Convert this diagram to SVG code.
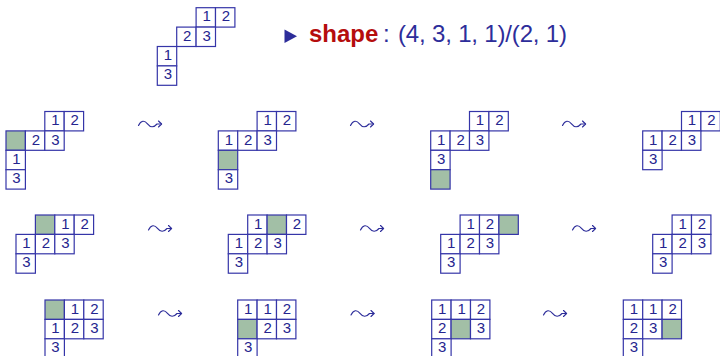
<svg xmlns="http://www.w3.org/2000/svg" xmlns:xlink="http://www.w3.org/1999/xlink" width="720" height="356" viewBox="0 0 720 356">
<style>
.c{fill:#ffffff;stroke:#3535a8;stroke-width:1.2}
.g{fill:#a2bfa6;stroke:#3535a8;stroke-width:1.2}
.t{font-family:"Liberation Sans",Arial,sans-serif;font-size:15px;fill:#25258f;text-anchor:middle}
.lt{fill:none;stroke:#2d2d9a;stroke-width:1.15;stroke-linecap:round;stroke-linejoin:round}
</style>
<defs>
<g id="leadsto">
<path class="lt" d="M0,2 C2.5,-3.4 6,-3.4 9,0.3 S15,4.4 18.5,0.5 L23,0.5"/>
<path class="lt" d="M20,-2.5 L23.1,0.5 L20,3.5"/>
</g>
</defs>
<rect width="720" height="356" fill="#ffffff"/>

<g id="top-shape" transform="translate(157.3,7.7)">
<rect class="c" x="38.8" y="0" width="19.4" height="19.4"/><text class="t" x="49.3" y="13.6">1</text>
<rect class="c" x="58.2" y="0" width="19.4" height="19.4"/><text class="t" x="68.7" y="13.6">2</text>
<rect class="c" x="19.4" y="19.4" width="19.4" height="19.4"/><text class="t" x="29.9" y="33">2</text>
<rect class="c" x="38.8" y="19.4" width="19.4" height="19.4"/><text class="t" x="49.3" y="33">3</text>
<rect class="c" x="0" y="38.8" width="19.4" height="19.4"/><text class="t" x="10.5" y="52.4">1</text>
<rect class="c" x="0" y="58.2" width="19.4" height="19.4"/><text class="t" x="10.5" y="71.8">3</text>
</g>

<g id="title">
<polygon points="284.5,29.5 297,36.2 284.5,42.9" fill="#2d2d9a"/>
<text x="309" y="42" font-family="'Liberation Sans',Arial,sans-serif" font-size="24" font-weight="bold" fill="#b50d0d">shape</text>
<text x="383" y="42" font-family="'Liberation Sans',Arial,sans-serif" font-size="24" fill="#2d2d9a">:</text>
<text x="398" y="42" font-family="'Liberation Sans',Arial,sans-serif" font-size="24" fill="#2d2d9a" textLength="169" lengthAdjust="spacing">(4, 3, 1, 1)/(2, 1)</text>
</g>

<!-- Row 1 -->
<g id="r1d1" transform="translate(6,111.5)">
<rect class="c" x="38.8" y="0" width="19.4" height="19.4"/><text class="t" x="49.3" y="13.6">1</text>
<rect class="c" x="58.2" y="0" width="19.4" height="19.4"/><text class="t" x="68.7" y="13.6">2</text>
<rect class="g" x="0" y="19.4" width="19.4" height="19.4"/>
<rect class="c" x="19.4" y="19.4" width="19.4" height="19.4"/><text class="t" x="29.9" y="33">2</text>
<rect class="c" x="38.8" y="19.4" width="19.4" height="19.4"/><text class="t" x="49.3" y="33">3</text>
<rect class="c" x="0" y="38.8" width="19.4" height="19.4"/><text class="t" x="10.5" y="52.4">1</text>
<rect class="c" x="0" y="58.2" width="19.4" height="19.4"/><text class="t" x="10.5" y="71.8">3</text>
</g>
<g id="r1d2" transform="translate(218.3,111.5)">
<rect class="c" x="38.8" y="0" width="19.4" height="19.4"/><text class="t" x="49.3" y="13.6">1</text>
<rect class="c" x="58.2" y="0" width="19.4" height="19.4"/><text class="t" x="68.7" y="13.6">2</text>
<rect class="c" x="0" y="19.4" width="19.4" height="19.4"/><text class="t" x="10.5" y="33">1</text>
<rect class="c" x="19.4" y="19.4" width="19.4" height="19.4"/><text class="t" x="29.9" y="33">2</text>
<rect class="c" x="38.8" y="19.4" width="19.4" height="19.4"/><text class="t" x="49.3" y="33">3</text>
<rect class="g" x="0" y="38.8" width="19.4" height="19.4"/>
<rect class="c" x="0" y="58.2" width="19.4" height="19.4"/><text class="t" x="10.5" y="71.8">3</text>
</g>
<g id="r1d3" transform="translate(430.7,111.5)">
<rect class="c" x="38.8" y="0" width="19.4" height="19.4"/><text class="t" x="49.3" y="13.6">1</text>
<rect class="c" x="58.2" y="0" width="19.4" height="19.4"/><text class="t" x="68.7" y="13.6">2</text>
<rect class="c" x="0" y="19.4" width="19.4" height="19.4"/><text class="t" x="10.5" y="33">1</text>
<rect class="c" x="19.4" y="19.4" width="19.4" height="19.4"/><text class="t" x="29.9" y="33">2</text>
<rect class="c" x="38.8" y="19.4" width="19.4" height="19.4"/><text class="t" x="49.3" y="33">3</text>
<rect class="c" x="0" y="38.8" width="19.4" height="19.4"/><text class="t" x="10.5" y="52.4">3</text>
<rect class="g" x="0" y="58.2" width="19.4" height="19.4"/>
</g>
<g id="r1d4" transform="translate(642.7,111.5)">
<rect class="c" x="38.8" y="0" width="19.4" height="19.4"/><text class="t" x="49.3" y="13.6">1</text>
<rect class="c" x="58.2" y="0" width="19.4" height="19.4"/><text class="t" x="68.7" y="13.6">2</text>
<rect class="c" x="0" y="19.4" width="19.4" height="19.4"/><text class="t" x="10.5" y="33">1</text>
<rect class="c" x="19.4" y="19.4" width="19.4" height="19.4"/><text class="t" x="29.9" y="33">2</text>
<rect class="c" x="38.8" y="19.4" width="19.4" height="19.4"/><text class="t" x="49.3" y="33">3</text>
<rect class="c" x="0" y="38.8" width="19.4" height="19.4"/><text class="t" x="10.5" y="52.4">3</text>
</g>

<!-- Row 2 -->
<g id="r2d1" transform="translate(16,215)">
<rect class="g" x="19.4" y="0" width="19.4" height="19.4"/>
<rect class="c" x="38.8" y="0" width="19.4" height="19.4"/><text class="t" x="49.3" y="13.6">1</text>
<rect class="c" x="58.2" y="0" width="19.4" height="19.4"/><text class="t" x="68.7" y="13.6">2</text>
<rect class="c" x="0" y="19.4" width="19.4" height="19.4"/><text class="t" x="10.5" y="33">1</text>
<rect class="c" x="19.4" y="19.4" width="19.4" height="19.4"/><text class="t" x="29.9" y="33">2</text>
<rect class="c" x="38.8" y="19.4" width="19.4" height="19.4"/><text class="t" x="49.3" y="33">3</text>
<rect class="c" x="0" y="38.8" width="19.4" height="19.4"/><text class="t" x="10.5" y="52.4">3</text>
</g>
<g id="r2d2" transform="translate(228.3,215)">
<rect class="c" x="19.4" y="0" width="19.4" height="19.4"/><text class="t" x="29.9" y="13.6">1</text>
<rect class="g" x="38.8" y="0" width="19.4" height="19.4"/>
<rect class="c" x="58.2" y="0" width="19.4" height="19.4"/><text class="t" x="68.7" y="13.6">2</text>
<rect class="c" x="0" y="19.4" width="19.4" height="19.4"/><text class="t" x="10.5" y="33">1</text>
<rect class="c" x="19.4" y="19.4" width="19.4" height="19.4"/><text class="t" x="29.9" y="33">2</text>
<rect class="c" x="38.8" y="19.4" width="19.4" height="19.4"/><text class="t" x="49.3" y="33">3</text>
<rect class="c" x="0" y="38.8" width="19.4" height="19.4"/><text class="t" x="10.5" y="52.4">3</text>
</g>
<g id="r2d3" transform="translate(440.7,215)">
<rect class="c" x="19.4" y="0" width="19.4" height="19.4"/><text class="t" x="29.9" y="13.6">1</text>
<rect class="c" x="38.8" y="0" width="19.4" height="19.4"/><text class="t" x="49.3" y="13.6">2</text>
<rect class="g" x="58.2" y="0" width="19.4" height="19.4"/>
<rect class="c" x="0" y="19.4" width="19.4" height="19.4"/><text class="t" x="10.5" y="33">1</text>
<rect class="c" x="19.4" y="19.4" width="19.4" height="19.4"/><text class="t" x="29.9" y="33">2</text>
<rect class="c" x="38.8" y="19.4" width="19.4" height="19.4"/><text class="t" x="49.3" y="33">3</text>
<rect class="c" x="0" y="38.8" width="19.4" height="19.4"/><text class="t" x="10.5" y="52.4">3</text>
</g>
<g id="r2d4" transform="translate(652.7,215)">
<rect class="c" x="19.4" y="0" width="19.4" height="19.4"/><text class="t" x="29.9" y="13.6">1</text>
<rect class="c" x="38.8" y="0" width="19.4" height="19.4"/><text class="t" x="49.3" y="13.6">2</text>
<rect class="c" x="0" y="19.4" width="19.4" height="19.4"/><text class="t" x="10.5" y="33">1</text>
<rect class="c" x="19.4" y="19.4" width="19.4" height="19.4"/><text class="t" x="29.9" y="33">2</text>
<rect class="c" x="38.8" y="19.4" width="19.4" height="19.4"/><text class="t" x="49.3" y="33">3</text>
<rect class="c" x="0" y="38.8" width="19.4" height="19.4"/><text class="t" x="10.5" y="52.4">3</text>
</g>

<!-- Row 3 -->
<g id="r3d1" transform="translate(45,300)">
<rect class="g" x="0" y="0" width="19.4" height="19.4"/>
<rect class="c" x="19.4" y="0" width="19.4" height="19.4"/><text class="t" x="29.9" y="13.6">1</text>
<rect class="c" x="38.8" y="0" width="19.4" height="19.4"/><text class="t" x="49.3" y="13.6">2</text>
<rect class="c" x="0" y="19.4" width="19.4" height="19.4"/><text class="t" x="10.5" y="33">1</text>
<rect class="c" x="19.4" y="19.4" width="19.4" height="19.4"/><text class="t" x="29.9" y="33">2</text>
<rect class="c" x="38.8" y="19.4" width="19.4" height="19.4"/><text class="t" x="49.3" y="33">3</text>
<rect class="c" x="0" y="38.8" width="19.4" height="19.4"/><text class="t" x="10.5" y="52.4">3</text>
</g>
<g id="r3d2" transform="translate(237.7,300)">
<rect class="c" x="0" y="0" width="19.4" height="19.4"/><text class="t" x="10.5" y="13.6">1</text>
<rect class="c" x="19.4" y="0" width="19.4" height="19.4"/><text class="t" x="29.9" y="13.6">1</text>
<rect class="c" x="38.8" y="0" width="19.4" height="19.4"/><text class="t" x="49.3" y="13.6">2</text>
<rect class="g" x="0" y="19.4" width="19.4" height="19.4"/>
<rect class="c" x="19.4" y="19.4" width="19.4" height="19.4"/><text class="t" x="29.9" y="33">2</text>
<rect class="c" x="38.8" y="19.4" width="19.4" height="19.4"/><text class="t" x="49.3" y="33">3</text>
<rect class="c" x="0" y="38.8" width="19.4" height="19.4"/><text class="t" x="10.5" y="52.4">3</text>
</g>
<g id="r3d3" transform="translate(431.7,300)">
<rect class="c" x="0" y="0" width="19.4" height="19.4"/><text class="t" x="10.5" y="13.6">1</text>
<rect class="c" x="19.4" y="0" width="19.4" height="19.4"/><text class="t" x="29.9" y="13.6">1</text>
<rect class="c" x="38.8" y="0" width="19.4" height="19.4"/><text class="t" x="49.3" y="13.6">2</text>
<rect class="c" x="0" y="19.4" width="19.4" height="19.4"/><text class="t" x="10.5" y="33">2</text>
<rect class="g" x="19.4" y="19.4" width="19.4" height="19.4"/>
<rect class="c" x="38.8" y="19.4" width="19.4" height="19.4"/><text class="t" x="49.3" y="33">3</text>
<rect class="c" x="0" y="38.8" width="19.4" height="19.4"/><text class="t" x="10.5" y="52.4">3</text>
</g>
<g id="r3d4" transform="translate(623.3,300)">
<rect class="c" x="0" y="0" width="19.4" height="19.4"/><text class="t" x="10.5" y="13.6">1</text>
<rect class="c" x="19.4" y="0" width="19.4" height="19.4"/><text class="t" x="29.9" y="13.6">1</text>
<rect class="c" x="38.8" y="0" width="19.4" height="19.4"/><text class="t" x="49.3" y="13.6">2</text>
<rect class="c" x="0" y="19.4" width="19.4" height="19.4"/><text class="t" x="10.5" y="33">2</text>
<rect class="c" x="19.4" y="19.4" width="19.4" height="19.4"/><text class="t" x="29.9" y="33">3</text>
<rect class="g" x="38.8" y="19.4" width="19.4" height="19.4"/>
<rect class="c" x="0" y="38.8" width="19.4" height="19.4"/><text class="t" x="10.5" y="52.4">3</text>
</g>

<g id="connectors">
<use xlink:href="#leadsto" href="#leadsto" x="138.5" y="123.5"/>
<use xlink:href="#leadsto" href="#leadsto" x="350.5" y="123.5"/>
<use xlink:href="#leadsto" href="#leadsto" x="562.5" y="123.5"/>
<use xlink:href="#leadsto" href="#leadsto" x="148.5" y="228"/>
<use xlink:href="#leadsto" href="#leadsto" x="360.5" y="228"/>
<use xlink:href="#leadsto" href="#leadsto" x="572.5" y="228"/>
<use xlink:href="#leadsto" href="#leadsto" x="158.5" y="313"/>
<use xlink:href="#leadsto" href="#leadsto" x="351" y="313"/>
<use xlink:href="#leadsto" href="#leadsto" x="543.5" y="313"/>
</g>
</svg>
